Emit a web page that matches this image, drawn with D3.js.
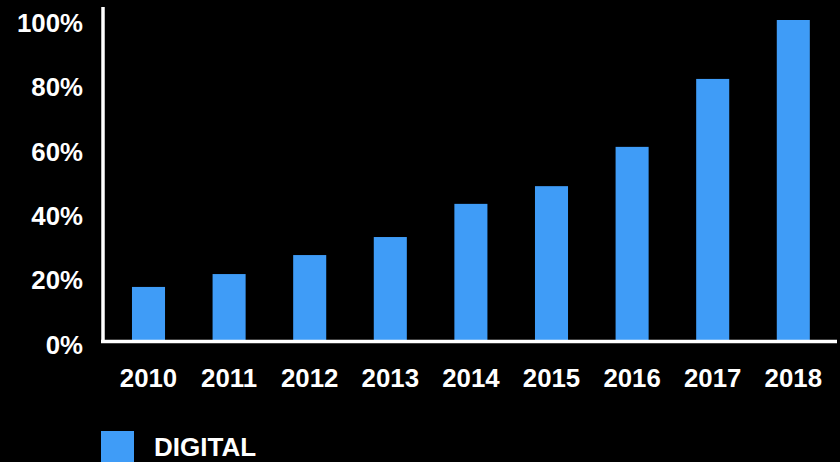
<!DOCTYPE html>
<html>
<head>
<meta charset="utf-8">
<script src="https://cdn.jsdelivr.net/npm/d3@7"></script>
<style>
html,body{margin:0;padding:0;background:#000;}
svg{display:block;}
text{font-family:"Liberation Sans",Arial,sans-serif;font-weight:bold;fill:#fff;}
</style>
</head>
<body>
<svg id="chart" width="840" height="462"></svg>
<script>
const categories = ["2010","2011","2012","2013","2014","2015","2016","2017","2018"];
const seriesName = "DIGITAL";
const values = [17.1, 21.1, 27.0, 32.6, 42.9, 48.4, 60.6, 81.7, 100];
const yTicks = [0, 20, 40, 60, 80, 100];

const svg = d3.select("#chart");
const color = "#3f9cf7";

const x = d3.scaleBand().domain(categories).range([108.2, 833.6]).paddingInner(0.59).paddingOuter(0.295);
const y = d3.scaleLinear().domain([0, 100]).range([342, 20]);

// bars
svg.append("g").selectAll("rect").data(values).join("rect")
  .attr("x", (d,i) => x(categories[i]))
  .attr("y", d => y(d))
  .attr("width", x.bandwidth())
  .attr("height", d => y(0) - y(d))
  .attr("fill", color);

// y axis
const yAxis = d3.axisLeft(y).tickValues(yTicks).tickFormat(d => d + "%").tickSize(0).tickPadding(20);
const gy = svg.append("g").attr("transform", "translate(103,0)").call(yAxis);
gy.select(".domain").remove();
gy.selectAll("text").attr("font-size", 25.8).attr("x", -20).attr("dy", "0.36em")
  .attr("fill", "#fff").style("font-family", "Liberation Sans, Arial, sans-serif").style("font-weight", "bold");
gy.selectAll("text").attr("transform", "translate(0,2)");
svg.append("line").attr("x1", 103).attr("x2", 103).attr("y1", 7).attr("y2", 343)
  .attr("stroke", "#fff").attr("stroke-width", 3.5);

// x axis
const xAxis = d3.axisBottom(x).tickSize(0).tickPadding(0);
const gx = svg.append("g").attr("transform", "translate(0,342)").call(xAxis);
gx.select(".domain").remove();
gx.selectAll("text").attr("font-size", 25.8).attr("y", 45).attr("dy", 0)
  .attr("fill", "#fff").style("font-family", "Liberation Sans, Arial, sans-serif").style("font-weight", "bold");
svg.append("line").attr("x1", 101).attr("x2", 837).attr("y1", 341.5).attr("y2", 341.5)
  .attr("stroke", "#fff").attr("stroke-width", 3.5);

// legend
const lg = svg.append("g");
lg.append("rect").attr("x", 101).attr("y", 431).attr("width", 33).attr("height", 33).attr("fill", color);
lg.append("text").attr("x", 154).attr("y", 456).attr("font-size", 26).text(seriesName);
</script>
</body>
</html>
